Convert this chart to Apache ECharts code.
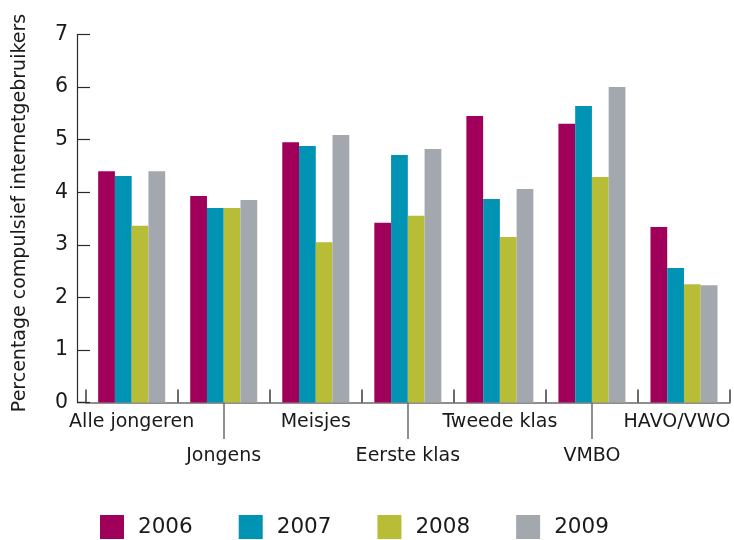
<!DOCTYPE html>
<html>
<head>
<meta charset="utf-8">
<script src="https://cdn.jsdelivr.net/npm/echarts@6/dist/echarts.min.js"></script>
<style>
  html, body { margin: 0; padding: 0; background: #fff; }
  #chart { width: 734px; height: 540px; }
</style>
</head>
<body>
<div id="chart"></div>
<script>
// Groups of young people and the share of compulsive internet users per year
const categories = ['Alle jongeren', 'Jongens', 'Meisjes', 'Eerste klas', 'Tweede klas', 'VMBO', 'HAVO/VWO'];
const years = ['2006', '2007', '2008', '2009'];
const values2006 = [4.40, 3.93, 4.95, 3.42, 5.45, 5.30, 3.34];
const values2007 = [4.31, 3.70, 4.88, 4.71, 3.87, 5.64, 2.56];
const values2008 = [3.36, 3.70, 3.05, 3.55, 3.15, 4.29, 2.25];
const values2009 = [4.40, 3.85, 5.09, 4.82, 4.06, 6.00, 2.23];
const yTicks = [0, 1, 2, 3, 4, 5, 6, 7];

const colors = ['#a0005a', '#0093b4', '#b8bd37', '#a3a8af'];
const seriesValues = [values2006, values2007, values2008, values2009];
const FONT = 'DejaVu Sans';

const chart = echarts.init(document.getElementById('chart'), null, { renderer: 'canvas' });

const gridLeft = 85.65, gridRight = 4, gridTop = 34.5, gridBottom = 137.5;
const axisY = 540 - gridBottom;
const lastIndex = categories.length - 1;

chart.setOption({
  animation: false,
  color: colors,
  textStyle: { fontFamily: FONT },
  grid: {
    left: gridLeft, right: gridRight, top: gridTop, bottom: gridBottom,
    containLabel: false,
    outerBoundsMode: 'none'
  },
  legend: {
    data: years,
    left: 100,
    top: 515,
    padding: 0,
    itemWidth: 24,
    itemHeight: 24,
    itemGap: 46,
    icon: 'rect',
    textStyle: { fontFamily: FONT, fontSize: 21.5, color: '#1a1a1a', padding: [0, 0, 0, 9] }
  },
  xAxis: [
    {
      type: 'category',
      data: categories,
      position: 'bottom',
      axisLine: { show: true, lineStyle: { color: '#6b6b6b', width: 1.5 } },
      axisTick: { show: true, inside: true, length: 13, lineStyle: { color: '#3a3a3a', width: 1.5 } },
      axisLabel: {
        interval: 0,
        margin: 3,
        fontFamily: FONT,
        fontSize: 19,
        color: '#1a1a1a',
        lineHeight: 34,
        verticalAlign: 'top',
        hideOverlap: false,
        formatter: function (v, i) {
          if (i === lastIndex) return '{edge|' + v + '}';
          return i % 2 === 1 ? '\n' + v : v;
        },
        rich: {
          // the right-most label is pulled in a little so it stays on the canvas
          edge: { fontFamily: FONT, fontSize: 19, color: '#1a1a1a', lineHeight: 34, padding: [0, 14, 0, 0] }
        }
      },
      splitLine: { show: false }
    },
    {
      // leader lines for the lower row of labels
      type: 'category',
      data: categories,
      position: 'bottom',
      offset: 0,
      axisLine: { show: false },
      axisLabel: { show: false },
      axisTick: {
        show: true,
        alignWithLabel: true,
        length: 36.5,
        interval: function (i) { return i % 2 === 1; },
        lineStyle: { color: '#6b6b6b', width: 1.5 }
      },
      splitLine: { show: false }
    }
  ],
  yAxis: {
    type: 'value',
    min: 0,
    max: 7,
    interval: 1,
    offset: gridLeft - 77,
    name: 'Percentage compulsief internetgebruikers',
    nameLocation: 'middle',
    nameGap: 47,
    nameRotate: 90,
    nameTextStyle: { fontFamily: FONT, fontSize: 19, color: '#1a1a1a', padding: [0, 0, 0, 11] },
    axisLine: { show: true, lineStyle: { color: '#2a2a2a', width: 1.2 } },
    axisTick: { show: true, inside: true, length: 13, lineStyle: { color: '#2a2a2a', width: 1.2 } },
    axisLabel: {
      margin: 9,
      fontFamily: FONT,
      fontSize: 20.5,
      color: '#1a1a1a',
      formatter: function (v) { return yTicks.includes(v) ? String(v) : ''; }
    },
    splitLine: { show: false }
  },
  graphic: [
    {
      // short stretch of the baseline between the value axis and the first category
      type: 'line',
      shape: { x1: 77, y1: axisY, x2: gridLeft, y2: axisY },
      style: { stroke: '#6b6b6b', lineWidth: 1.5 },
      silent: true
    }
  ],
  series: years.map(function (y, k) {
    return {
      name: y,
      type: 'bar',
      xAxisIndex: 0,
      data: seriesValues[k],
      barWidth: 16.75,
      barGap: '0%',
      itemStyle: { color: colors[k] }
    };
  })
});
</script>
</body>
</html>
